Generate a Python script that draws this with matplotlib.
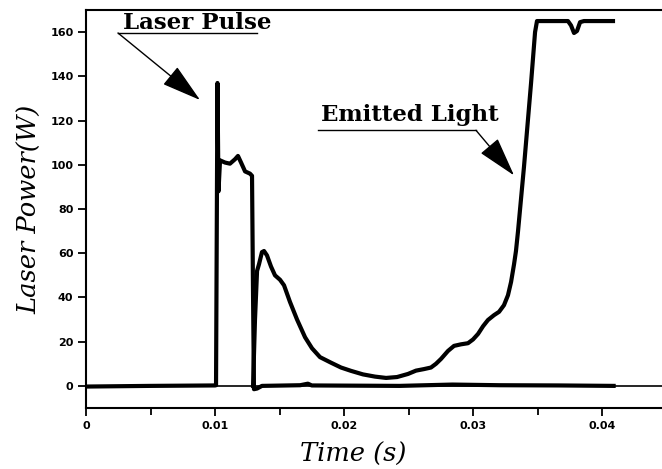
import matplotlib
matplotlib.use("Agg")
import matplotlib.pyplot as plt
from matplotlib.ticker import MultipleLocator

# laser pulse trace (time in s, power in W)
pulse_t = [0.0, 0.0050, 0.0100, 0.01008, 0.01019, 0.01027, 0.01039, 0.01078, 0.01116,
           0.01155, 0.01178, 0.01202, 0.01233, 0.01271, 0.01287, 0.01295, 0.01302,
           0.01326, 0.01364, 0.0166, 0.0172, 0.0175, 0.0243, 0.0284, 0.0321, 0.0367, 0.0409]
pulse_p = [-0.3, 0.0, 0.2, 0.3, 137, 88, 102, 101, 100.5,
           102.5, 104, 101, 97, 96, 95, 40, -1.5,
           -1.2, 0.0, 0.3, 1.0, 0.2, 0.0, 0.6, 0.3, 0.2, 0.0]

# emitted light trace
emit_t = [0.01295, 0.0131, 0.01326, 0.01341, 0.01364, 0.0138, 0.01403, 0.01434, 0.01465,
          0.01504, 0.01535, 0.01581, 0.01636, 0.01698, 0.01752, 0.01814, 0.01899, 0.01977,
          0.02054, 0.02147, 0.0224, 0.02326, 0.02411, 0.02496, 0.02558, 0.0262, 0.02674,
          0.02713, 0.02752, 0.02806, 0.02853, 0.02907, 0.02961, 0.0300, 0.03039, 0.03078,
          0.03116, 0.03163, 0.03202, 0.0324, 0.03271, 0.03295, 0.03318, 0.03333, 0.03349,
          0.03395, 0.0345, 0.03481, 0.03496, 0.03736, 0.0376, 0.03783, 0.03806, 0.0383,
          0.0386, 0.04085]
emit_p = [0, 30, 52, 55, 60.5, 61, 59, 54, 50,
          48, 45.5, 38, 30, 22, 17, 13, 10.5, 8.3,
          6.8, 5.2, 4.2, 3.6, 4.0, 5.4, 6.9, 7.6, 8.3,
          10, 12.2, 15.8, 18.1, 18.8, 19.3, 21, 23.5, 27,
          29.8, 32, 33.5, 36.5, 41, 47, 55, 61, 70,
          99, 137, 160, 165, 165, 163, 159.6, 160.5, 164.5,
          165, 165]

x_ticks = [0.0, 0.01, 0.02, 0.03, 0.04]
x_tick_labels = ["0", "0.01", "0.02", "0.03", "0.04"]
y_ticks = [0, 20, 40, 60, 80, 100, 120, 140, 160]

fig = plt.figure(figsize=(6.62, 4.69), dpi=100)
ax = fig.add_axes([86 / 662, 1 - 408 / 469, 1 - 86 / 662, (408 - 10) / 469])

ax.axhline(0, color="black", lw=1.2, zorder=1)
ax.plot(pulse_t, pulse_p, color="black", lw=3.0, solid_joinstyle="round", zorder=3)
ax.plot(emit_t, emit_p, color="black", lw=3.0, solid_joinstyle="round", zorder=3)

ax.set_xlim(0, 0.04465)
ax.set_ylim(-10, 170)

ax.set_xticks(x_ticks)
ax.set_xticklabels(x_tick_labels)
ax.xaxis.set_minor_locator(MultipleLocator(0.005))
ax.set_yticks(y_ticks)

for lab in ax.get_xticklabels() + ax.get_yticklabels():
    lab.set_fontweight("bold")
    lab.set_fontsize(8)
ax.tick_params(axis="both", which="major", direction="out", length=6, width=1.3, pad=3)
ax.tick_params(axis="x", which="minor", direction="out", length=5, width=1.3)

for side in ["left", "bottom", "top"]:
    ax.spines[side].set_linewidth(1.5)
ax.spines["right"].set_visible(False)

ax.set_ylabel("Laser Power(W)", fontsize=18.5, style="italic", family="DejaVu Serif", labelpad=6)
ax.set_xlabel("Time (s)", fontsize=18.5, style="italic", family="DejaVu Serif", labelpad=8)
ax.xaxis.label.set_x(0.464)

# annotations
ax.text(0.00287, 161.5, "Laser Pulse", fontsize=16.5, fontweight="bold", family="DejaVu Serif",
        ha="left", va="baseline")
ax.plot([0.00248, 0.01326], [159.6, 159.6], color="black", lw=1.0)
ax.annotate("", xy=(0.00884, 129.3), xytext=(0.00248, 159.6),
            arrowprops=dict(arrowstyle="-|>,head_length=1.4,head_width=0.4",
                            color="black", lw=1.0, mutation_scale=18, shrinkA=0, shrinkB=0))

ax.text(0.0182, 119.8, "Emitted Light", fontsize=16.5, fontweight="bold", family="DejaVu Serif",
        ha="left", va="baseline")
ax.plot([0.01798, 0.03023], [115.6, 115.6], color="black", lw=1.0)
ax.annotate("", xy=(0.03318, 95.2), xytext=(0.03023, 115.6),
            arrowprops=dict(arrowstyle="-|>,head_length=1.4,head_width=0.4",
                            color="black", lw=1.0, mutation_scale=18, shrinkA=0, shrinkB=0))

fig.savefig("out.png", dpi=100)
